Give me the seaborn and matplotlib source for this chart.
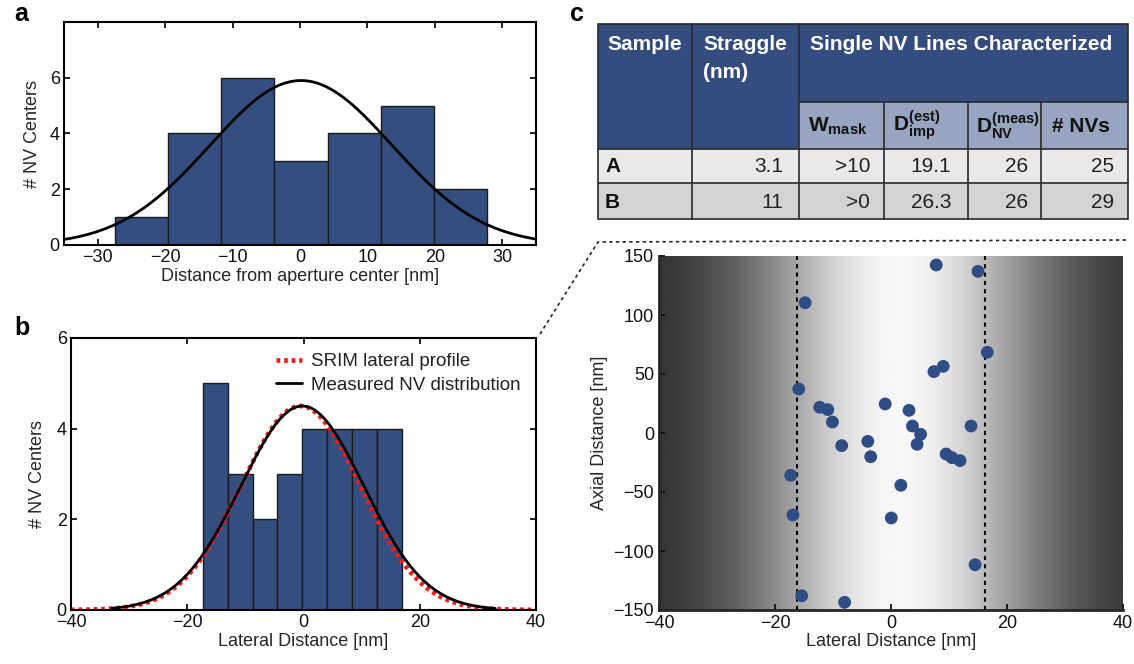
import numpy as np
import matplotlib
matplotlib.use('Agg')
import matplotlib.pyplot as plt
from matplotlib import font_manager
from matplotlib.patches import Rectangle
import seaborn as sns

# ---- data ----
# panel a: histogram of distance from aperture center (sample A)
a_edges = [-27.5, -19.6, -11.7, -3.8, 4.1, 12.0, 19.9, 27.8]
a_counts = [1, 4, 6, 3, 4, 5, 2]
a_fit = dict(amp=5.9, mu=0.15, sigma=13.5)

# panel b: histogram of lateral distance (sample B)
b_edges = [-17.3, -13.0, -8.75, -4.5, -0.2, 4.1, 8.35, 12.6, 16.9]
b_counts = [5, 3, 2, 3, 4, 4, 4, 4]
b_srim = dict(amp=4.5, mu=-0.5, sigma=10.3)
b_meas = dict(amp=4.5, mu=-0.2, sigma=10.6)

# panel c: table
tbl_samples = ['A', 'B']
tbl_straggle = ['3.1', '11']
tbl_wmask = ['>10', '>0']
tbl_dimp = ['19.1', '26.3']
tbl_dnv = ['26', '26']
tbl_nvs = ['25', '29']

# panel c: NV positions (lateral, axial) in nm
nv_lateral = [-14.8, -15.9, -12.3, -10.9, -10.1, -8.5, -4.0, -1.0, -3.5, -17.3,
              -16.9, 0.05, -15.4, -8.0, 7.8, 15.0, 16.6, 9.0, 7.4, 3.1,
              3.7, 5.1, 4.5, 13.8, 9.5, 10.5, 11.9, 1.7, 14.5]
nv_axial = [110.4, 37.3, 21.8, 19.8, 9.3, -10.7, -7.1, 24.6, -20.1, -35.9,
            -69.5, -72.0, -137.9, -143.5, 142.4, 137.0, 68.4, 56.5, 52.0, 19.2,
            5.9, -1.1, -9.6, 5.9, -17.8, -20.9, -23.4, -44.3, -111.6]
line_half_width = 16.2
beam = dict(floor=0.15, amp=0.82, mu=1.5, sigma=18.0)

BAR = '#344e80'
DOT = '#2f4c85'
NAVY = '#344c7e'
LIGHT = '#97a5c0'


def gauss(x, amp, mu, sigma):
    return amp * np.exp(-(x - mu) ** 2 / (2 * sigma ** 2))


sns.set_theme(style='ticks')
names = {f.name for f in font_manager.fontManager.ttflist}
narrow = 'Liberation Sans Narrow' if 'Liberation Sans Narrow' in names else 'Liberation Sans'
plt.rcParams['font.family'] = [narrow, 'DejaVu Sans']
plt.rcParams['mathtext.fontset'] = 'custom'
plt.rcParams['mathtext.bf'] = 'Liberation Sans:bold'
plt.rcParams['mathtext.rm'] = 'Liberation Sans'
plt.rcParams['axes.linewidth'] = 1.5
plt.rcParams['xtick.direction'] = 'in'
plt.rcParams['ytick.direction'] = 'in'
plt.rcParams['xtick.major.size'] = 4
plt.rcParams['ytick.major.size'] = 4
plt.rcParams['xtick.major.width'] = 1.3
plt.rcParams['ytick.major.width'] = 1.3
plt.rcParams['xtick.labelsize'] = 13
plt.rcParams['ytick.labelsize'] = 13
plt.rcParams['axes.labelsize'] = 13
plt.rcParams['text.color'] = '#222222'
plt.rcParams['xtick.color'] = '#111111'
plt.rcParams['ytick.color'] = '#111111'

W, H = 1134, 664
fig = plt.figure(figsize=(W / 100, H / 100), dpi=100)


def box(l, t, r, b):
    return [l / W, 1 - b / H, (r - l) / W, (b - t) / H]


def style_box(ax):
    for s in ax.spines.values():
        s.set_visible(True)
        s.set_color('black')
    ax.tick_params(top=True, right=True, labeltop=False, labelright=False, pad=3)


# ---- panel a ----
ax_a = fig.add_axes(box(64, 22, 536, 245))
a_centers = [(a_edges[i] + a_edges[i + 1]) / 2 for i in range(len(a_counts))]
sns.histplot(x=a_centers, weights=a_counts, bins=a_edges, ax=ax_a,
             color=BAR, alpha=1, edgecolor='#1a1a1a', linewidth=1)
xa = np.linspace(-35, 35, 300)
sns.lineplot(x=xa, y=gauss(xa, **a_fit), ax=ax_a, color='black', lw=2)
ax_a.set_xlim(-35, 35)
ax_a.set_ylim(0, 8)
ax_a.set_xticks([-30, -20, -10, 0, 10, 20, 30])
ax_a.set_yticks([0, 2, 4, 6])
ax_a.set_xlabel('Distance from aperture center [nm]', labelpad=1)
ax_a.set_ylabel('# NV Centers', labelpad=6)
style_box(ax_a)

# ---- panel b ----
ax_b = fig.add_axes(box(71, 338, 536, 610))
b_centers = [(b_edges[i] + b_edges[i + 1]) / 2 for i in range(len(b_counts))]
sns.histplot(x=b_centers, weights=b_counts, bins=b_edges, ax=ax_b,
             color=BAR, alpha=1, edgecolor='#1a1a1a', linewidth=1)
xs = np.linspace(-40, 40, 400)
xm = np.linspace(-33, 33, 300)
sns.lineplot(x=xs, y=gauss(xs, **b_srim), ax=ax_b, color='#ff1a1a', lw=3.4,
             linestyle=(0, (0.8, 0.8)), label='SRIM lateral profile')
sns.lineplot(x=xm, y=gauss(xm, **b_meas), ax=ax_b, color='black', lw=2,
             label='Measured NV distribution')
ax_b.set_xlim(-40, 40)
ax_b.set_ylim(0, 6)
ax_b.set_xticks([-40, -20, 0, 20, 40])
ax_b.set_yticks([0, 2, 4, 6])
ax_b.set_xlabel('Lateral Distance [nm]', labelpad=1)
ax_b.set_ylabel('# NV Centers', labelpad=8)
leg = ax_b.legend(loc='upper right', frameon=False, fontsize=13.5, handlelength=1.4,
                  handletextpad=0.5, borderaxespad=0.4, labelspacing=0.35)
style_box(ax_b)

# ---- panel c scatter ----
ax_c = fig.add_axes(box(659, 256, 1123, 610))
xb = np.linspace(-40, 40, 400)
prof = beam['floor'] + gauss(xb, beam['amp'], beam['mu'], beam['sigma'])
ax_c.imshow(np.tile(prof, (2, 1)), extent=[-40, 40, -150, 150], aspect='auto',
            cmap='gray', vmin=0, vmax=1, origin='lower', zorder=0)
for xv in (-line_half_width, line_half_width):
    ax_c.axvline(xv, color='black', lw=1.5, linestyle=(0, (2, 2)), zorder=1)
sns.scatterplot(x=nv_lateral, y=nv_axial, ax=ax_c, color=DOT, s=85,
                edgecolor='none', zorder=2)
ax_c.set_xlim(-40, 40)
ax_c.set_ylim(-150, 150)
ax_c.set_xticks([-40, -20, 0, 20, 40])
ax_c.set_yticks([-150, -100, -50, 0, 50, 100, 150])
ax_c.set_xlabel('Lateral Distance [nm]', labelpad=1)
ax_c.set_ylabel('Axial Distance [nm]', labelpad=4)
ax_c.spines['top'].set_visible(False)
ax_c.spines['right'].set_visible(False)
ax_c.spines['left'].set_linewidth(2)
ax_c.spines['bottom'].set_linewidth(2)

# ---- overlay: table, connector and panel letters (pixel coords) ----
ov2 = fig.add_axes([0, 0, 1, 1], zorder=5)
ov2.set_xlim(0, W)
ov2.set_ylim(H, 0)
ov2.axis('off')
ov2.patch.set_alpha(0)

col_x = [598, 692, 799, 884, 968, 1041, 1128]
row_y = [24, 102, 149, 183, 219]
edge = '#2a2a2a'
ov2.add_patch(Rectangle((col_x[0], row_y[0]), col_x[-1] - col_x[0], row_y[2] - row_y[0],
                        facecolor=NAVY, edgecolor='none'))
ov2.add_patch(Rectangle((col_x[2], row_y[1]), col_x[-1] - col_x[2], row_y[2] - row_y[1],
                        facecolor=LIGHT, edgecolor='none'))
ov2.add_patch(Rectangle((col_x[0], row_y[2]), col_x[-1] - col_x[0], row_y[3] - row_y[2],
                        facecolor='#e9e9eb', edgecolor='none'))
ov2.add_patch(Rectangle((col_x[0], row_y[3]), col_x[-1] - col_x[0], row_y[4] - row_y[3],
                        facecolor='#d2d3d5', edgecolor='none'))
ov2.add_patch(Rectangle((col_x[0], row_y[0]), col_x[-1] - col_x[0], row_y[4] - row_y[0],
                        facecolor='none', edgecolor=edge, lw=1.2))
for yy in row_y[2:4]:
    ov2.plot([col_x[0], col_x[-1]], [yy, yy], color=edge, lw=1.2)
ov2.plot([col_x[2], col_x[-1]], [row_y[1], row_y[1]], color=edge, lw=1.2)
for xx in col_x[1:3]:
    ov2.plot([xx, xx], [row_y[0], row_y[4]], color=edge, lw=1.2)
for xx in col_x[3:6]:
    ov2.plot([xx, xx], [row_y[1], row_y[4]], color=edge, lw=1.2)

hdr = dict(color='white', fontsize=15, fontweight='bold', family='Liberation Sans',
           va='center', ha='left')
ov2.text(607, 44, 'Sample', **hdr)
ov2.text(703, 44, 'Straggle', **hdr)
ov2.text(703, 73, '(nm)', **hdr)
ov2.text(810, 44, 'Single NV Lines Characterized', **hdr)
sub = dict(color='#111111', fontsize=15, va='center', ha='left', family='Liberation Sans')
ov2.text(808, 126, r'$\mathbf{W}_{\mathbf{mask}}$', **sub)
ov2.text(893, 126, r'$\mathbf{D}^{\mathbf{(est)}}_{\mathbf{imp}}$', **sub)
ov2.text(976, 126, r'$\mathbf{D}^{\mathbf{(meas)}}_{\mathbf{NV}}$', **sub)
ov2.text(1052, 126, '# NVs', fontweight='bold', **sub)

cell = dict(color='#222222', fontsize=15, va='center', ha='right', family='Liberation Sans')
right_x = [783, 870, 951, 1028, 1114]
for i in range(len(tbl_samples)):
    yc = (row_y[2 + i] + row_y[3 + i]) / 2 + 1
    ov2.text(605, yc, tbl_samples[i], color='#111111', fontsize=15, fontweight='bold',
             va='center', ha='left', family='Liberation Sans')
    vals = [tbl_straggle[i], tbl_wmask[i], tbl_dimp[i], tbl_dnv[i], tbl_nvs[i]]
    for xr, v in zip(right_x, vals):
        ov2.text(xr, yc, v, **cell)

# dotted connector from panel b to the scatter panel
ov2.plot([540, 598, 1126], [334, 242, 240], color='#222222', lw=1.2,
         linestyle=(0, (2, 2)))

lab = dict(fontsize=18, fontweight='bold', family='Liberation Sans', color='black',
           va='center', ha='left')
ov2.text(14, 14, 'a', **lab)
ov2.text(14, 328, 'b', **lab)
ov2.text(570, 14, 'c', **lab)

fig.savefig('out.png', dpi=100)
